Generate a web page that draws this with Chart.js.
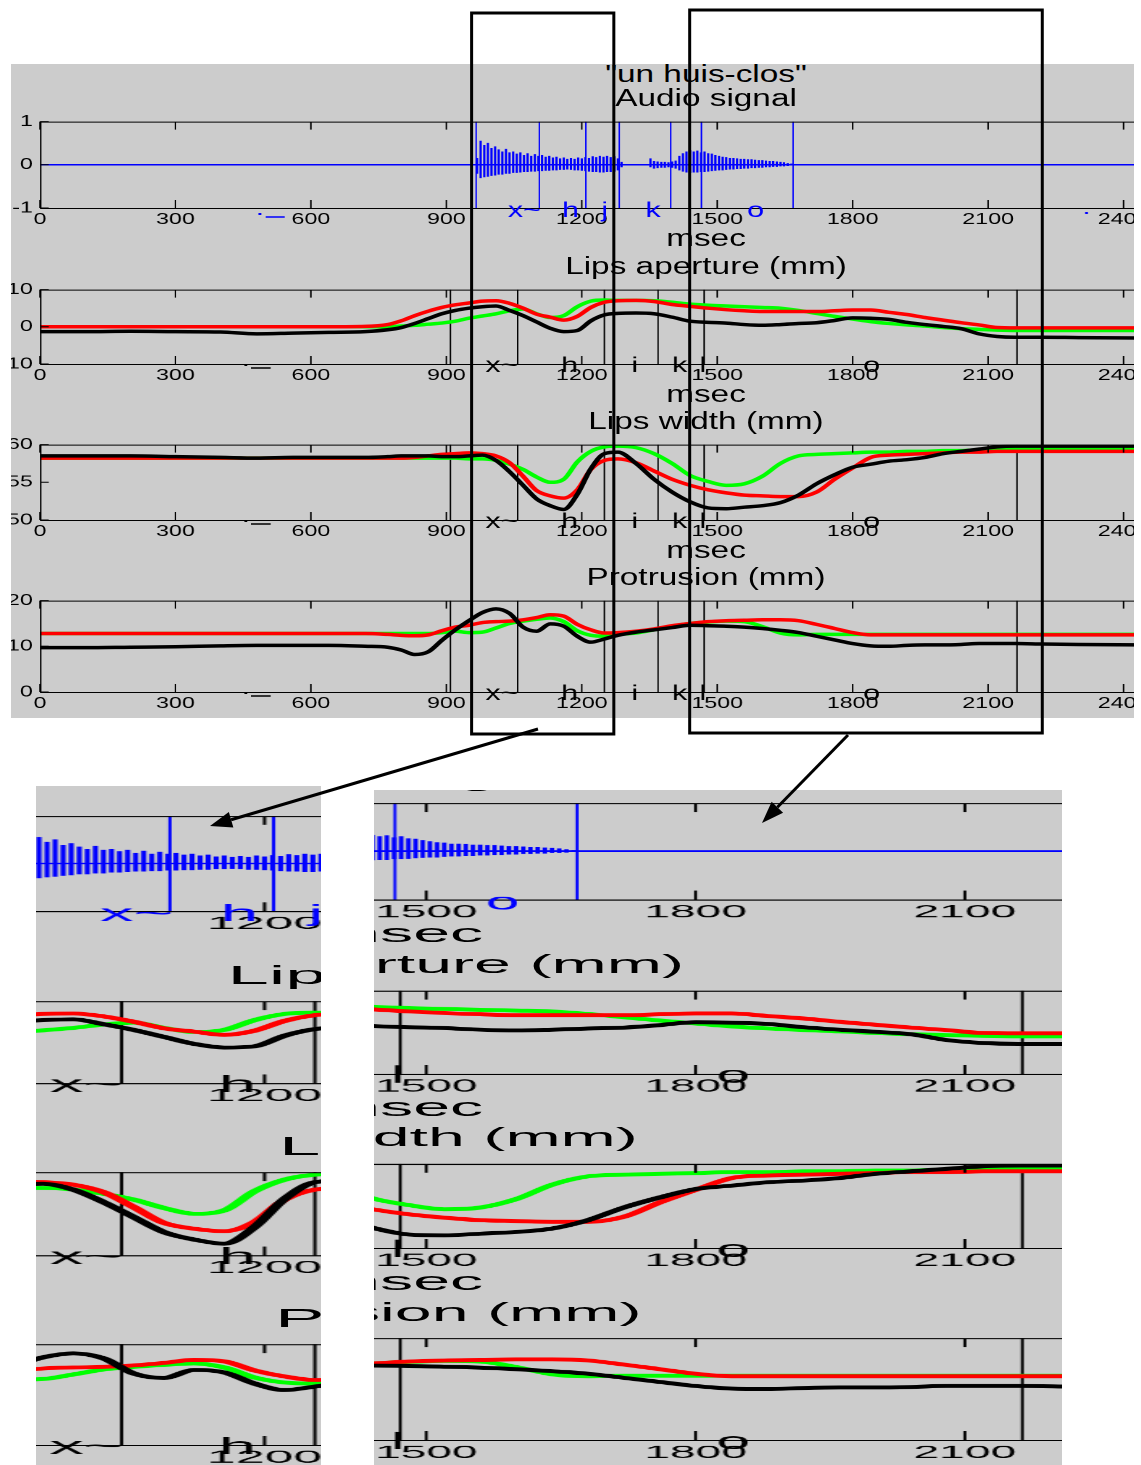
<!DOCTYPE html>
<html>
<head>
<meta charset="utf-8">
<script src="https://cdn.jsdelivr.net/npm/chart.js@4.4.1/dist/chart.umd.min.js"></script>
<style>
  html, body { margin:0; padding:0; background:#fff; }
  body { width:1141px; height:1465px; position:relative; overflow:hidden; }
  .clip { position:absolute; overflow:hidden; }
  .fig { position:absolute; left:0; top:0; width:820px; height:740px; transform-origin:0 0; }
  .gray { position:absolute; left:0; top:64px; width:820px; height:654px; background:#cccccc; }
  .pc { position:absolute; left:0; }
  .ttl { position:absolute; white-space:nowrap; font-family:"Liberation Sans", Arial, sans-serif; font-size:23px; line-height:23px; color:#000; transform:translateX(-50%); }
  #overlay { position:absolute; left:0; top:0; pointer-events:none; }
</style>
</head>
<body>
<div id="mainClip" class="clip" style="left:11px;top:0;width:1123px;height:740px;"></div>
<div id="inL" class="clip" style="left:36px;top:786px;width:285px;height:679px;"></div>
<div id="inR" class="clip" style="left:374px;top:790px;width:688px;height:675px;"></div>
<canvas id="overlay" width="1141" height="1465"></canvas>
<script>
// ---------------- DATA ----------------
const xTickVals = [0, 300, 600, 900, 1200, 1500, 1800, 2100, 2400];

// audio signal: pitch-pulse envelope (ms, max, min)
const audioT = [968,976,984,992,1000,1008,1016,1024,1032,1040,1048,1056,1064,1072,1080,1088,1096,1104,1112,1120,1128,1136,1144,1152,1160,1168,1176,1184,1192,1200,1208,1216,1224,1232,1240,1248,1256,1264,1272,1280,1288,
  1352,1360,1368,1376,1384,1392,1400,1408,
  1416,1424,1432,1440,1448,1456,1464,1472,1480,1488,1496,1504,1512,1520,1528,1536,1544,1552,1560,1568,1576,1584,1592,1600,1608,1616,1624,1632,1640,1648,1656,1664];
const audioHi = [0.15,0.55,0.45,0.5,0.38,0.42,0.35,0.3,0.36,0.28,0.3,0.25,0.28,0.22,0.26,0.2,0.24,0.2,0.22,0.18,0.2,0.16,0.18,0.14,0.16,0.13,0.15,0.13,0.16,0.14,0.17,0.15,0.19,0.17,0.2,0.18,0.2,0.17,0.19,0.14,0.06,
  0.14,0.08,0.07,0.06,0.06,0.05,0.07,0.09,
  0.2,0.26,0.3,0.33,0.3,0.32,0.28,0.3,0.26,0.25,0.22,0.2,0.18,0.17,0.15,0.15,0.14,0.13,0.13,0.12,0.12,0.11,0.1,0.1,0.09,0.08,0.08,0.07,0.06,0.05,0.03,0.02];
const audioLo = [-0.2,-0.3,-0.28,-0.27,-0.25,-0.24,-0.22,-0.22,-0.2,-0.2,-0.18,-0.18,-0.17,-0.16,-0.16,-0.15,-0.15,-0.14,-0.14,-0.13,-0.13,-0.12,-0.12,-0.11,-0.11,-0.1,-0.11,-0.12,-0.12,-0.13,-0.14,-0.15,-0.16,-0.16,-0.17,-0.17,-0.16,-0.16,-0.15,-0.12,-0.05,
  -0.05,-0.08,-0.07,-0.06,-0.06,-0.05,-0.06,-0.08,
  -0.12,-0.15,-0.17,-0.18,-0.17,-0.17,-0.16,-0.16,-0.15,-0.14,-0.13,-0.12,-0.12,-0.11,-0.1,-0.1,-0.09,-0.09,-0.08,-0.08,-0.07,-0.07,-0.06,-0.06,-0.05,-0.05,-0.04,-0.04,-0.03,-0.03,-0.02,-0.01];
const silenceT = [0, 2500];
const silenceV = [0, 0];
const audioYTicks = [-1, 0, 1];

// phoneme boundaries and labels
const audioMarks = [966, 1106, 1209, 1283, 1397, 1465, 1668];
const audioPhones = ['x~', 'h', 'j', 'k', 'o'];
const audioPhoneT = [1073, 1175, 1251, 1358, 1585];
const artMarks = [909, 1058, 1250, 1369, 1471, 2164];
const artPhones = ['x~', 'h', 'i', 'k', 'l', 'o'];
const artPhoneT = [1023, 1173, 1317, 1417, 1468, 1842];

// articulatory time base (ms)
const T = [0,100,200,300,400,480,560,640,720,770,800,830,860,890,920,950,980,1010,1040,1070,1100,1130,1160,1190,1220,1250,1280,1320,1360,1400,1440,1480,1520,1560,1600,1640,1680,1720,1760,1800,1840,1880,1920,1960,2000,2040,2080,2120,2160,2220,2300,2430];

// Lips aperture (mm)
const apYTicks = [-10, 0, 10];
const apGreen = [0,0,0,0,0,0,0,0,0,0,0.2,0.4,0.7,1.0,1.5,2.3,2.9,3.5,4.3,4.8,3.5,2.5,3.0,5.4,6.9,7.2,7.1,7.1,7.0,6.6,6.1,5.8,5.6,5.4,5.2,5.0,4.4,3.6,2.8,2.1,1.4,0.9,0.5,0.2,-0.2,-0.5,-0.7,-0.9,-1.0,-1.0,-1.0,-1.0];
const apRed   = [0,0,0,0,0,0,0,0,0.1,0.6,1.6,3.0,4.2,5.2,5.9,6.4,6.9,7.0,6.3,5.0,3.4,2.6,1.8,2.8,5.2,6.6,7.0,7.1,6.8,6.0,5.5,5.0,4.6,4.3,4.1,4.1,4.1,4.1,4.3,4.5,4.5,3.9,3.3,2.5,1.8,1.1,0.5,-0.2,-0.3,-0.3,-0.3,-0.3];
const apBlack = [-1.3,-1.3,-1.2,-1.3,-1.4,-1.9,-1.7,-1.5,-1.3,-0.8,-0.2,0.9,2.2,3.5,4.4,5.0,5.4,5.6,4.4,3.0,1.3,-0.4,-1.3,-1.0,1.6,3.2,3.6,3.7,3.5,2.6,1.5,1.2,1.0,0.6,0.4,0.6,0.9,1.1,1.7,2.4,2.3,2.0,1.2,0.6,0.1,-0.5,-1.9,-2.6,-2.8,-2.8,-2.9,-3.0];

// Lips width (mm)
const wYTicks = [50, 55, 60];
const wGreen = [58.2,58.2,58.2,58.2,58.2,58.2,58.2,58.2,58.2,58.2,58.2,58.2,58.2,58.2,58.2,58.1,58.1,57.9,57.4,56.7,55.7,55.0,55.4,57.7,59.1,59.7,59.8,59.6,58.8,57.5,55.9,55.1,54.6,54.8,55.8,57.5,58.5,58.7,58.8,58.9,59.0,59.0,59.1,59.1,59.2,59.2,59.3,59.3,59.4,59.4,59.4,59.4];
const wRed   = [58.2,58.2,58.2,58.2,58.2,58.2,58.2,58.2,58.2,58.2,58.2,58.3,58.5,58.7,58.8,58.9,58.8,58.5,57.6,55.8,53.9,53.2,52.9,54.0,56.7,57.9,58.1,57.6,56.5,55.4,54.6,54.0,53.6,53.3,53.2,53.1,53.1,53.7,55.4,56.9,58.3,58.6,58.7,58.8,58.9,59.0,59.0,59.1,59.1,59.1,59.1,59.1];
const wBlack = [58.5,58.5,58.5,58.4,58.3,58.2,58.3,58.3,58.3,58.4,58.5,58.5,58.5,58.4,58.4,58.5,58.6,57.9,56.4,54.6,52.8,51.9,51.4,53.4,56.8,58.8,59.0,57.5,55.4,53.7,52.4,51.6,51.5,51.7,51.9,52.3,53.3,54.8,56.0,57.0,57.4,57.8,58.0,58.3,58.8,59.1,59.4,59.7,59.8,59.8,59.8,59.8];

// Protrusion (mm)
const pYTicks = [0, 10, 20];
const pGreen = [12.8,12.8,12.8,12.8,12.8,12.8,12.8,12.8,12.8,12.8,12.8,12.8,12.8,13.0,13.3,13.0,13.1,14.0,15.0,15.5,15.9,16.2,15.4,13.4,12.4,12.2,12.6,12.9,13.6,14.4,15.0,15.3,15.5,15.4,14.3,12.9,12.5,12.6,12.6,12.6,12.6,12.6,12.6,12.6,12.6,12.6,12.6,12.6,12.6,12.6,12.6,12.6];
const pRed   = [12.8,12.8,12.8,12.8,12.8,12.8,12.8,12.8,12.8,12.6,12.4,12.3,12.5,13.4,14.2,14.6,15.2,15.4,15.5,15.8,16.3,16.9,16.6,14.8,13.6,12.9,13.0,13.3,13.8,14.5,15.0,15.4,15.6,15.7,15.8,15.8,15.6,14.8,13.9,13.0,12.5,12.5,12.5,12.5,12.5,12.5,12.5,12.5,12.5,12.5,12.5,12.5];
const pBlack = [9.7,9.7,9.8,9.9,10.1,10.2,10.2,10.2,10.0,9.8,9.2,8.2,8.8,11.3,13.6,15.6,17.4,18.2,17.2,14.2,13.3,14.9,14.4,12.2,10.9,11.6,12.4,13.1,13.6,14.1,14.6,14.5,14.4,14.2,13.9,13.5,13.0,12.2,11.4,10.6,10.1,10.0,10.2,10.3,10.3,10.4,10.6,10.6,10.6,10.5,10.4,10.3];

// ---------------- LAYOUT ----------------
const S = 1.45;               // horizontal stretch of the original figure
const YW = 40 / S;            // y-axis width (unstretched units)
const XMAX = 2500;
const CW = 806;               // canvas width (unstretched units)
const PAD_TOP = 12, XAXIS_H = 34;
const FONT = '"Liberation Sans", Arial, Helvetica, sans-serif';

const PANELS = [
  { top:119, bottom:208, yMin:-1, yMax:1, yTicks:audioYTicks, kind:'audio' },
  { top:287, bottom:364, yMin:-10, yMax:10, yTicks:apYTicks, series:[apBlack, apRed, apGreen] },
  { top:442, bottom:520, yMin:50, yMax:60, yTicks:wYTicks, series:[wBlack, wRed, wGreen] },
  { top:598, bottom:692, yMin:0, yMax:20, yTicks:pYTicks, series:[pBlack, pRed, pGreen] }
];
const TITLES = [['"un huis-clos"', 82], ['Audio signal', 106], ['msec', 246], ['Lips aperture (mm)', 274],
                ['msec', 402], ['Lips width (mm)', 429], ['msec', 558], ['Protrusion (mm)', 585]];
const TITLE_CX = 706 / S;

const decor = {
  id: 'decor',
  beforeDatasetsDraw(chart, args, o) {
    const { ctx, chartArea: a, scales: { x } } = chart;
    ctx.save();
    ctx.strokeStyle = o.color; ctx.lineWidth = 1;
    ctx.beginPath();
    o.marks.forEach(ms => {
      const px = x.getPixelForValue(ms);
      ctx.moveTo(px, a.top); ctx.lineTo(px, a.bottom);
    });
    ctx.stroke();
    ctx.restore();
  },
  afterDraw(chart, args, o) {
    const { ctx, chartArea: a, scales: { x, y } } = chart;
    ctx.save();
    ctx.strokeStyle = '#000'; ctx.lineWidth = 1;
    ctx.beginPath();
    ctx.moveTo(a.right + 60, a.top + 0.5); ctx.lineTo(a.left + 0.5, a.top + 0.5);
    ctx.lineTo(a.left + 0.5, a.bottom + 0.5); ctx.lineTo(a.right + 60, a.bottom + 0.5);
    x.ticks.forEach(t => {
      const px = x.getPixelForValue(t.value);
      ctx.moveTo(px, a.top); ctx.lineTo(px, a.top + 8);
      ctx.moveTo(px, a.bottom); ctx.lineTo(px, a.bottom - 8);
    });
    y.ticks.forEach(t => {
      const py = y.getPixelForValue(t.value);
      ctx.moveTo(a.left, py); ctx.lineTo(a.left + 6, py);
    });
    ctx.stroke();
    // phoneme labels
    ctx.fillStyle = o.color;
    ctx.font = '21px ' + FONT;
    ctx.textAlign = 'center'; ctx.textBaseline = 'alphabetic';
    o.labels.forEach((txt, i) => ctx.fillText(txt, x.getPixelForValue(o.labelT[i]), a.bottom + o.labelDy));
    // small stray marks of the original printout
    ctx.strokeStyle = o.color; ctx.lineWidth = 1.5;
    ctx.beginPath();
    o.dashes.forEach(d => { ctx.moveTo(x.getPixelForValue(d[0]), a.bottom + d[2]); ctx.lineTo(x.getPixelForValue(d[1]), a.bottom + d[2]); });
    ctx.stroke();
    o.dots.forEach(d => { ctx.fillRect(x.getPixelForValue(d[0]) - 1, a.bottom + d[1] - 1, 2, 2); });
    ctx.restore();
  }
};

function lineDs(vals, color) {
  return { type:'line', data: T.map((t, i) => ({ x:t, y:vals[i] })), borderColor: color, borderWidth: 3.5,
           pointRadius: 0, cubicInterpolationMode: 'monotone', fill: false };
}

function makeChart(canvas, p, dpr) {
  let datasets, dec;
  if (p.kind === 'audio') {
    datasets = [
      { type:'bar', data: audioT.map((t, i) => ({ x:t, y:[audioLo[i], audioHi[i]] })), backgroundColor:'#0000ff',
        barThickness: 0.9, borderWidth: 0 },
      { type:'line', data: silenceT.map((t, i) => ({ x:t, y:silenceV[i] })), borderColor:'#0000ff', borderWidth:1.5, pointRadius:0 }
    ];
    dec = { color:'#0000ff', marks:audioMarks, labels:audioPhones, labelT:audioPhoneT, labelDy:9,
            dashes:[[500, 542, 9]], dots:[[487, 6], [2318, 5]] };
  } else {
    datasets = [lineDs(p.series[0], '#000000'), lineDs(p.series[1], '#ff0000'), lineDs(p.series[2], '#00ff00')];
    dec = { color:'#000000', marks:artMarks, labels:artPhones, labelT:artPhoneT, labelDy:8,
            dashes:[[467, 511, 4]], dots:[[456, 1]] };
  }
  return new Chart(canvas, {
    type: 'line',
    data: { datasets },
    options: {
      responsive: false, animation: false, devicePixelRatio: dpr, events: [],
      layout: { padding: { top: PAD_TOP, left: 0, right: 0, bottom: 0 } },
      plugins: { legend: { display:false }, tooltip: { enabled:false }, title: { display:false }, decor: dec },
      scales: {
        x: { type:'linear', min:0, max:XMAX, offset:false,
             afterFit: s => { s.height = XAXIS_H; },
             afterBuildTicks: s => { s.ticks = xTickVals.map(v => ({ value:v })); },
             ticks: { font:{ family:FONT, size:16 }, color:'#000', padding:2, maxRotation:0, autoSkip:false, callback: v => String(v) },
             grid: { display:false, drawTicks:false }, border: { display:false } },
        y: { type:'linear', min:p.yMin, max:p.yMax,
             afterFit: s => { s.width = YW; },
             afterBuildTicks: s => { s.ticks = p.yTicks.map(v => ({ value:v })); },
             ticks: { font:{ family:FONT, size:16 }, color:'#000', padding:5, callback: v => String(v) },
             grid: { display:false, drawTicks:false }, border: { display:false } }
      }
    },
    plugins: [decor]
  });
}

function buildFigure(host, transform, dpr) {
  const fig = document.createElement('div');
  fig.className = 'fig';
  fig.style.transform = transform;
  host.appendChild(fig);
  const g = document.createElement('div'); g.className = 'gray'; fig.appendChild(g);
  const charts = [];
  PANELS.forEach(p => {
    const c = document.createElement('canvas');
    c.className = 'pc';
    const h = (p.bottom - p.top) + PAD_TOP + XAXIS_H;
    c.width = CW; c.height = h;
    c.style.top = (p.top - PAD_TOP) + 'px';
    c.style.width = CW + 'px'; c.style.height = h + 'px';
    fig.appendChild(c);
    charts.push(makeChart(c, p, dpr));
  });
  TITLES.forEach(([txt, base]) => {
    const d = document.createElement('div');
    d.className = 'ttl'; d.textContent = txt;
    d.style.left = TITLE_CX + 'px'; d.style.top = (base - 19.5) + 'px';
    fig.appendChild(d);
  });
  return charts;
}

// main figure (clip starts at x=11)
const mainHost = document.getElementById('mainClip');
const mainCharts = buildFigure(mainHost, `translate(-11px,0) scale(${S},1)`, 2);

// magnified insets (crops of the main figure)
function inset(id, cx0, cy0, kx, ky) {
  buildFigure(document.getElementById(id), `translate(${-cx0 * kx}px, ${-cy0 * ky}px) scale(${S * kx}, ${ky})`, 2);
}
inset('inL', 479.3, 94.5, 2.23, 1.103);
inset('inR', 690.9, 110, 1.988, 1.117);

// overlay: zoom windows and arrows
const zoomWindows = [[956, 1271, 13, 734], [1439, 2220, 10, 733]];
const arrows = [[538, 729, 210, 826], [848, 735, 762, 823]];
(function drawOverlay() {
  const ctx = document.getElementById('overlay').getContext('2d');
  const xs = mainCharts[0].scales.x;
  const toMain = ms => xs.getPixelForValue(ms) * S;
  ctx.strokeStyle = '#000'; ctx.lineWidth = 3;
  zoomWindows.forEach(([a, b, t, btm]) => {
    const x1 = toMain(a), x2 = toMain(b);
    ctx.strokeRect(x1, t, x2 - x1, btm - t);
  });
  ctx.fillStyle = '#000';
  arrows.forEach(([x1, y1, x2, y2]) => {
    const ang = Math.atan2(y2 - y1, x2 - x1);
    const L = 22, W = 8;
    const bx = x2 - L * Math.cos(ang), by = y2 - L * Math.sin(ang);
    ctx.beginPath(); ctx.moveTo(x1, y1); ctx.lineTo(bx, by); ctx.stroke();
    ctx.beginPath();
    ctx.moveTo(x2, y2);
    ctx.lineTo(bx + W * Math.sin(ang), by - W * Math.cos(ang));
    ctx.lineTo(bx - W * Math.sin(ang), by + W * Math.cos(ang));
    ctx.closePath(); ctx.fill();
  });
})();
</script>
</body>
</html>
